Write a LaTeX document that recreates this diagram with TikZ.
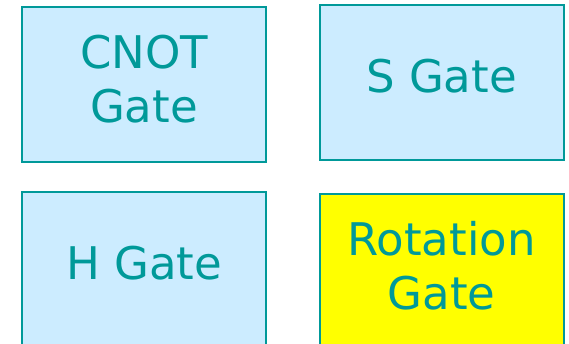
\documentclass[tikz,border=0pt]{standalone}
\usepackage{fontspec}
\setmainfont{DejaVu Sans}
\usepackage{tikz}
\usetikzlibrary{positioning}

\definecolor{gateline}{RGB}{0,153,153}
\definecolor{gatefill}{RGB}{204,236,255}
\definecolor{gatemark}{RGB}{255,255,0}

\begin{document}
\begin{tikzpicture}[
    x=1pt, y=-1pt,
    gate/.style={
        rectangle,
        draw=gateline,
        line width=2pt,
        fill=#1,
        text=gateline,
        minimum width=244pt,
        minimum height=155pt,
        inner sep=0pt,
        text depth=13pt,
        font=\fontsize{45}{54}\selectfont,
        align=center
    },
    gate/.default=gatefill
]
\useasboundingbox (0,0) rectangle (569,344);
\clip (0,0) rectangle (569,344);

% Gates, two rows
\node[gate]          (cnot)     at (144,85)      {CNOT\\Gate};
\node[gate]          (sgate)    at (441.5,82.5)  {S Gate};
\node[gate]          (hgate)    at (144,269.5)   {H Gate};
\node[gate=gatemark] (rotation) at (441.5,271.5) {Rotation\\Gate};

\end{tikzpicture}
\end{document}
